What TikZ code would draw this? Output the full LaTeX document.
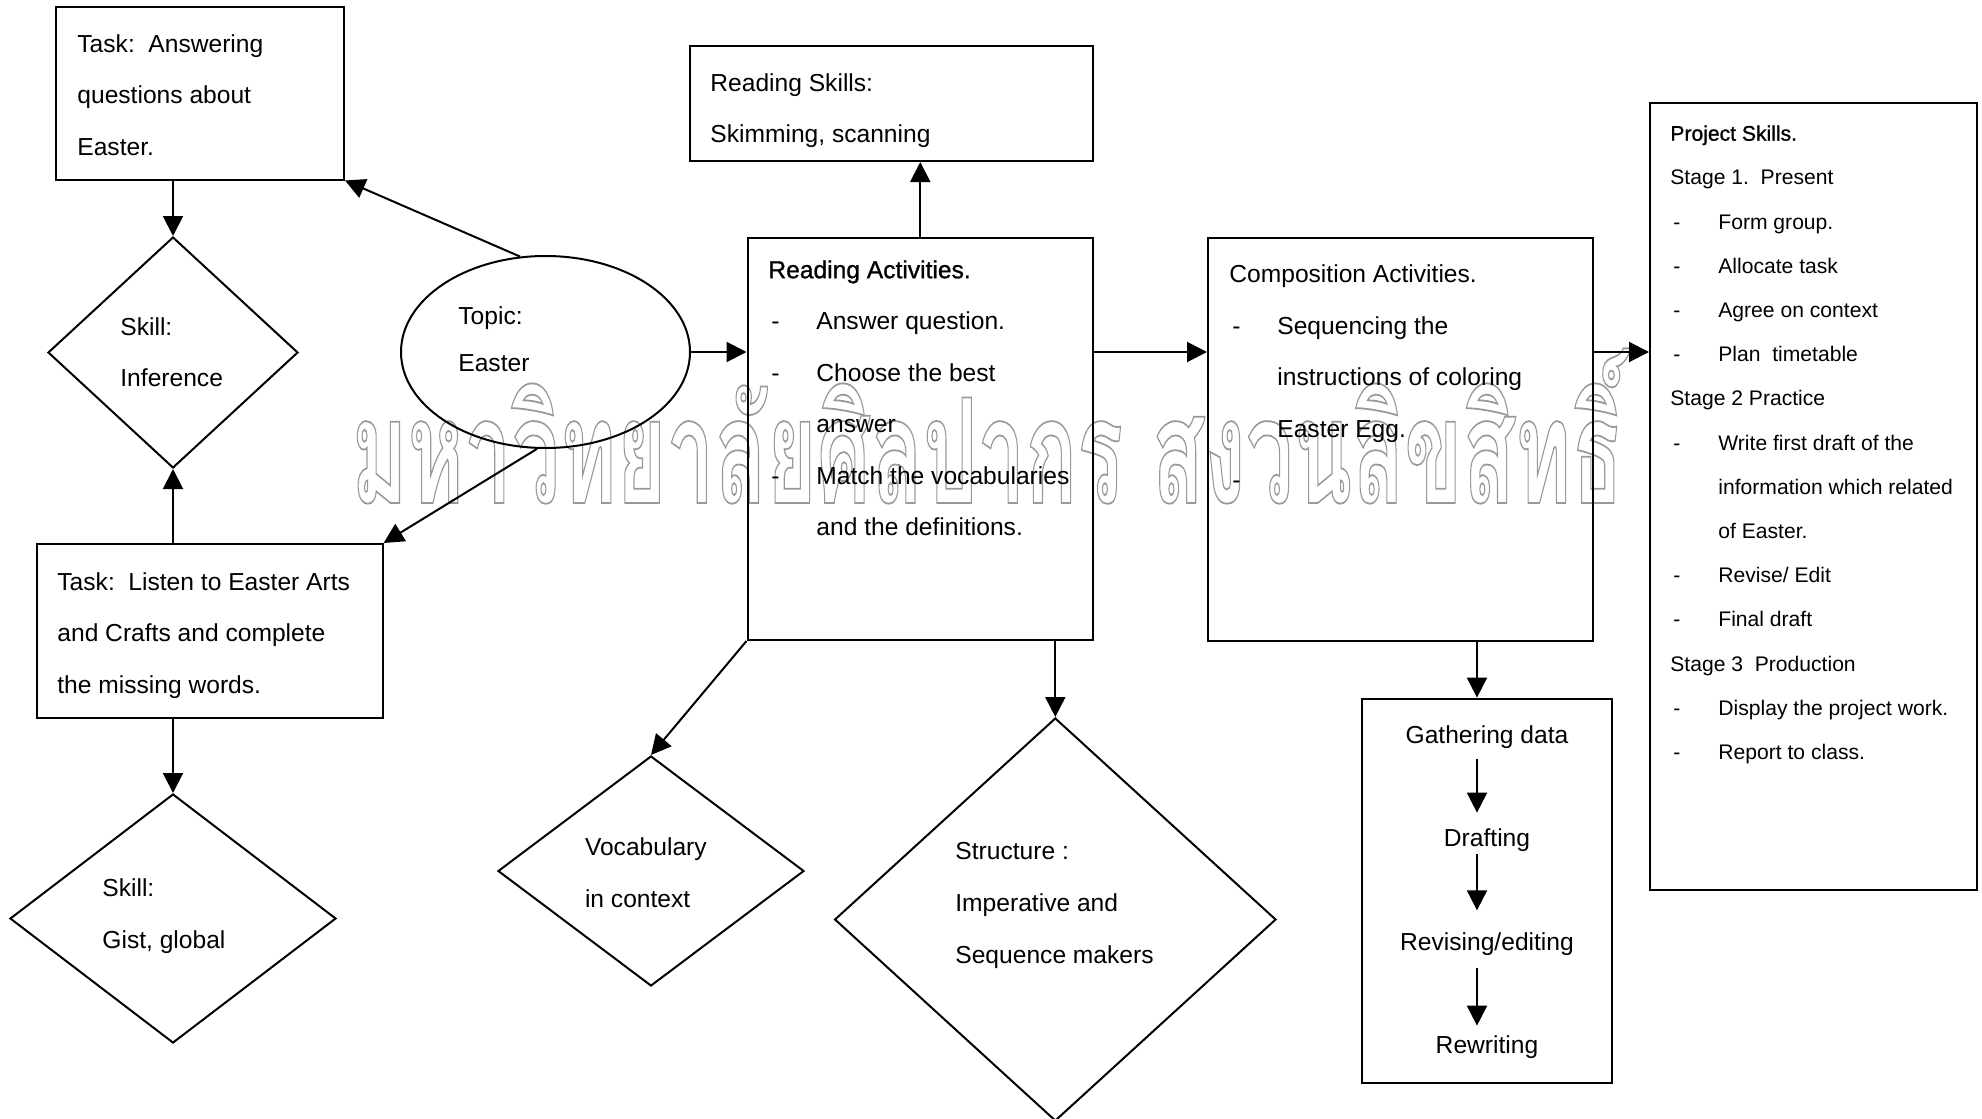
\documentclass[tikz,border=0pt]{standalone}
\usepackage{fontspec}
\setmainfont{Liberation Sans}
\newfontfamily\thaifont[Script=Thai]{Loma}
\newfontface\headfont{Liberation Sans}[FakeBold=1]
\usetikzlibrary{shapes.geometric,arrows.meta}
\newcommand{\dl}{\makebox[24pt][l]{\hspace{1.5pt}-}}
\newcommand{\ind}{\hspace*{24pt}}
\newcommand{\hollow}[1]{\special{pdf:code 1 Tr 0.9 w}#1\special{pdf:code 0 Tr}}

\begin{document}
\begin{tikzpicture}[x=0.5pt,y=-0.5pt,
    box/.style={draw,line width=1pt,inner sep=0pt},
    dia/.style={draw,diamond,line width=1pt,inner sep=0pt},
    txt/.style={anchor=north west,inner sep=0pt,align=left,font=\fontsize{12.3pt}{25.75pt}\selectfont},
    small/.style={txt,font=\fontsize{10.55pt}{22.1pt}\selectfont},
    gt/.style={inner sep=0pt,font=\fontsize{12.3pt}{14pt}\selectfont},
    arr/.style={-{Triangle[length=10pt,width=10pt]},line width=1pt}]
    \useasboundingbox (0,0) rectangle (1982,1119);

    \node[anchor=base west,inner sep=0pt] (wm) at (351,503)
        {\resizebox{636pt}{\height}{\thaifont\bfseries\fontsize{73pt}{73pt}\selectfont\color{black!40}\hollow{มหาวิทยาลัยศิลปากร สงวนลิขสิทธิ์}}};

    \node[box,minimum width=144pt,minimum height=86.5pt] (ans) at (200,93) {};
    \node[txt] (ansT) at (77,34) {Task:~~Answering\\questions about\\Easter.};
    \node[dia,minimum width=125pt,minimum height=115.5pt] (inf) at (173,352.5) {};
    \node[txt] (infT) at (120,317) {Skill:\\Inference};
    \node[draw,ellipse,line width=1pt,inner sep=0pt,minimum width=144.5pt,minimum height=96pt] (topic) at (545.5,352) {};
    \node[txt,font=\fontsize{12.3pt}{23.5pt}\selectfont] (topT) at (458,306) {Topic:\\Easter};
    \node[box,minimum width=173pt,minimum height=86.75pt] (lis) at (209.6,630.75) {};
    \node[txt] (lisT) at (57,572) {Task:~~Listen to Easter Arts\\and Crafts and complete\\the missing words.};
    \node[dia,minimum width=163pt,minimum height=124.5pt] (gist) at (173,918.5) {};
    \node[txt] (gistT) at (102,878.5) {Skill:\\Gist, global};

    \node[box,minimum width=201.5pt,minimum height=57.75pt] (rs) at (891.5,103.25) {};
    \node[txt] (rsT) at (710,73) {Reading Skills:\\Skimming, scanning};
    \node[box,minimum width=172.75pt,minimum height=201pt] (ra) at (920.25,439) {};
    \node[txt] (raT) at (768,260) {{\headfont Reading Activities.}\\\dl Answer question.\\\dl Choose the best\\\ind answer\\\dl Match the vocabularies\\\ind and the definitions.};
    \node[dia,minimum width=153pt,minimum height=115pt] (voc) at (651,871) {};
    \node[txt] (vocT) at (584.6,837.5) {Vocabulary\\in context};
    \node[dia,minimum width=220.7pt,minimum height=201.5pt] (str) at (1055.3,919.5) {};
    \node[txt,font=\fontsize{12.3pt}{26pt}\selectfont] (strT) at (955,842) {Structure :\\Imperative and\\Sequence makers};

    \node[box,minimum width=192.25pt,minimum height=201.5pt] (comp) at (1400.25,439) {};
    \node[txt] (compT) at (1229,264.5) {Composition Activities.\\\dl Sequencing the\\\ind instructions of coloring\\\ind Easter Egg.\\\dl};
    \node[box,minimum width=125pt,minimum height=192pt] (gat) at (1487,890.6) {};
    \node[gt] (g1) at (1487,737.5) {Gathering data};
    \node[gt] (g2) at (1487,840.5) {Drafting};
    \node[gt] (g3) at (1487,944.2) {Revising/editing};
    \node[gt] (g4) at (1487,1047.5) {Rewriting};

    \node[box,minimum width=163.25pt,minimum height=393.5pt] (proj) at (1813.25,496) {};
    \node[small] (projT) at (1670,125) {{\headfont Project Skills.}\\Stage 1.~~Present\\\dl Form group.\\\dl Allocate task\\\dl Agree on context\\\dl Plan~~timetable\\Stage 2 Practice\\\dl Write first draft of the\\\ind information which related\\\ind of Easter.\\\dl Revise/ Edit\\\dl Final draft\\Stage 3~~Production\\\dl Display the project work.\\\dl Report to class.};

    \draw[arr] (ans.south -| inf.north) -- (inf.north);
    \draw[arr] (topic.105) -- (ans.south east);
    \draw[arr] (topic.265) -- (lis.north east);
    \draw[arr] (lis.north -| inf.south) -- (inf.south);
    \draw[arr] (lis.south -| gist.north) -- (gist.north);
    \draw[arr] (topic.east) -- (topic.east -| ra.west);
    \draw[arr] (ra.north) -- (rs.south -| ra.north);
    \draw[arr] (ra.east |- topic) -- (comp.west |- topic);
    \draw[arr] (comp.east |- topic) -- (proj.west |- topic);
    \draw[arr] (ra.south west) -- (voc.north);
    \draw[arr] (ra.south -| str.north) -- (str.north);
    \draw[arr] ([xshift=-5pt]gat.north |- comp.south) -- ([xshift=-5pt]gat.north);
    \draw[arr,shorten <=5pt,shorten >=8pt] ([xshift=-5pt]g1.south) -- ([xshift=-5pt]g2.north);
    \draw[arr,shorten <=1pt,shorten >=11pt] ([xshift=-5pt]g2.south) -- ([xshift=-5pt]g3.north);
    \draw[arr,shorten <=6pt,shorten >=5pt] ([xshift=-5pt]g3.south) -- ([xshift=-5pt]g4.north);
\end{tikzpicture}
\end{document}
